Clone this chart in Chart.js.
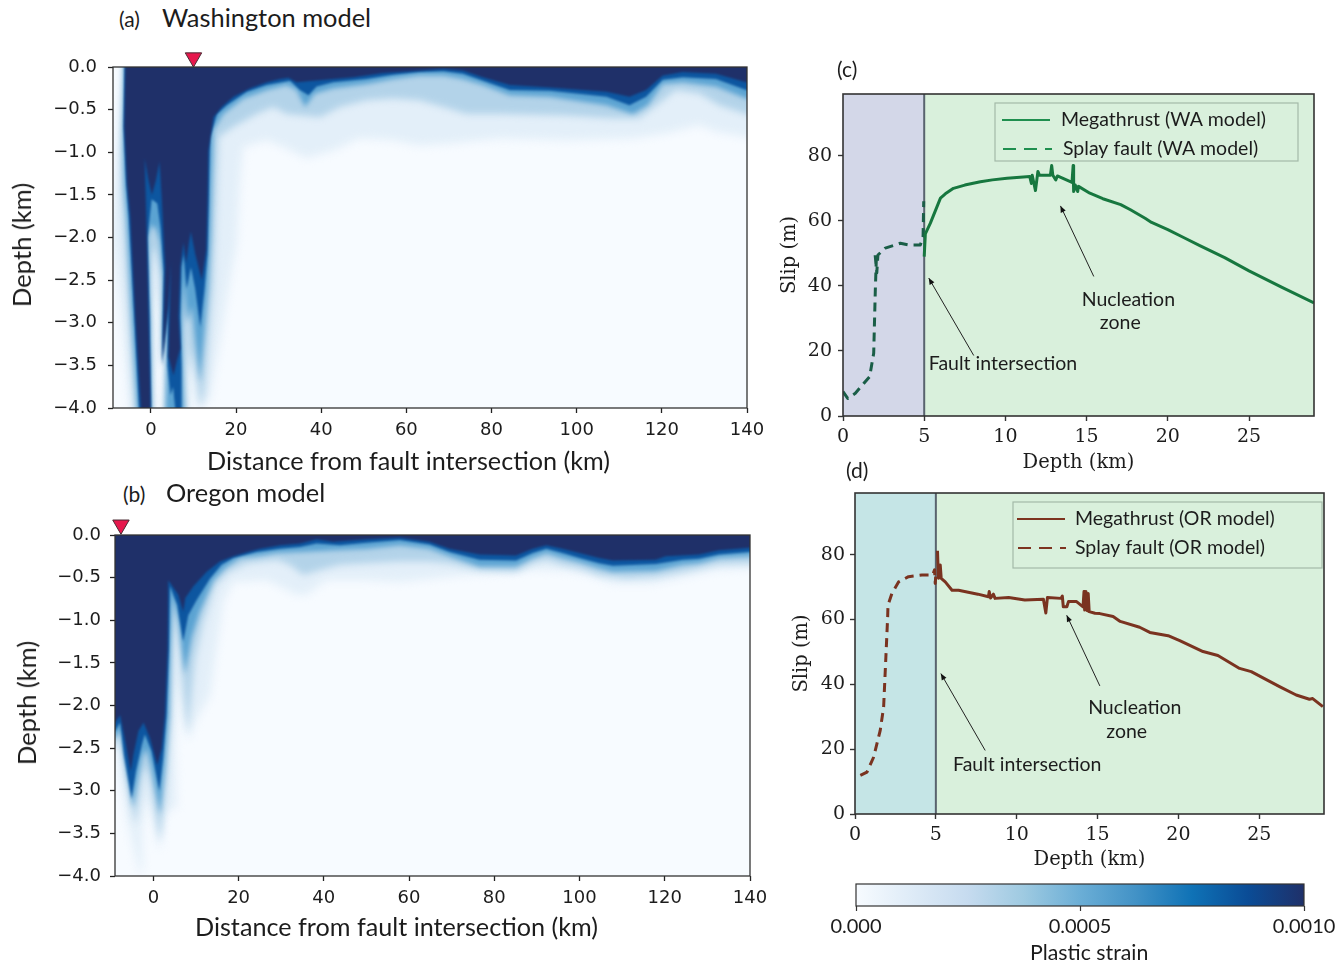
<!DOCTYPE html>
<html>
<head>
<meta charset="utf-8">
<title>Plastic strain and slip</title>
<script src="https://cdn.jsdelivr.net/npm/chart.js@4/dist/chart.umd.js"></script>
<style>
  body { margin: 0; background: #fff; width: 1342px; height: 965px; overflow: hidden; position: relative; }
  canvas { position: absolute; }
  .txt { position: absolute; white-space: nowrap; color: #1c1c1c; font-family: "Lato"; }
</style>
</head>
<body>
<script>
// Washington model strain contours, [distance km, depth km], one outline per strain level
const waStrain100 = [[-5.9,0.3],[-6.0,0],[-6.25,-0.7],[-5.6,-1.37],[-4.84,-1.76],[-3.67,-2.93],[-2.34,-4.0],[-2.2,-4.2],[0,-4.2],[-0.55,-2.93],[-1.09,-1.76],[-1.48,-1.07],[-0.55,-1.33],[0.23,-1.5],[1.17,-1.33],[2.03,-1.11],[2.58,-1.56],[3.13,-2.15],[3.36,-2.34],[2.73,-3.44],[4.14,-2.77],[4.77,-2.27],[4.38,-2.93],[4.14,-3.4],[5.3,-3.62],[6.1,-3.45],[6.9,-3.3],[6.5,-2.93],[6.9,-2.34],[7.66,-2.06],[8.28,-2.3],[8.9,-2.07],[9.38,-1.93],[10.4,-2.19],[11.95,-2.5],[13,-2.15],[13.3,-1.56],[13.5,-0.98],[14.7,-0.59],[16.6,-0.47],[19.4,-0.35],[23.3,-0.25],[27.2,-0.18],[30.3,-0.14],[32.3,-0.125],[34.2,-0.18],[38.1,-0.16],[42.8,-0.14],[47.5,-0.12],[54.5,-0.07],[63,-0.04],[68.7,-0.02],[73.3,-0.04],[78,-0.12],[84.3,-0.21],[93.7,-0.24],[107,-0.29],[112.4,-0.35],[116.3,-0.27],[120.2,-0.1],[124.9,-0.06],[132.7,-0.08],[139.8,-0.18],[143,-0.2],[143,0.3]];
const waStrain80 = [[-6.1,0.3],[-6.4,-0.7],[-5.8,-1.37],[-5.2,-1.76],[-3.9,-2.93],[-2.6,-4.2],[0.1,-4.2],[-0.3,-2.93],[-0.8,-2.0],[0.2,-1.55],[1.5,-1.6],[2.3,-1.9],[3.0,-2.4],[2.6,-3.5],[4.1,-2.8],[4.7,-2.3],[4.0,-2.93],[3.9,-3.5],[4.6,-3.85],[5.2,-3.75],[6.1,-4.2],[7.2,-4.2],[7.2,-3.5],[6.9,-2.93],[7.2,-2.34],[7.66,-2.2],[8.4,-2.6],[9.4,-2.35],[10.4,-2.6],[11.6,-3.05],[12.6,-2.6],[13.3,-2.2],[13.6,-1.56],[13.8,-1.0],[13.9,-0.82],[15.5,-0.55],[17.8,-0.45],[22.5,-0.29],[27.2,-0.21],[32.7,-0.16],[35,-0.27],[37,-0.33],[38.9,-0.23],[42.8,-0.18],[50.6,-0.14],[56.9,-0.09],[63,-0.06],[68.7,-0.05],[73.3,-0.08],[78,-0.16],[84.3,-0.27],[93.7,-0.28],[107,-0.35],[112.4,-0.45],[116.3,-0.35],[120.2,-0.15],[124.9,-0.12],[132.7,-0.14],[139.8,-0.27],[143,-0.3],[143,0.3]];
const waStrain50 = [[-6.2,0.3],[-6.5,-0.8],[-6.3,-1.37],[-5.7,-1.76],[-4.5,-2.93],[-3,-4.2],[0.2,-4.2],[-0.2,-2.93],[-0.7,-2.0],[0.2,-1.85],[1.2,-1.9],[2.1,-2.05],[2.9,-2.5],[2.5,-3.5],[4.1,-2.8],[4.7,-2.25],[3.7,-3.4],[3.4,-4.2],[7.9,-4.2],[7.5,-3.5],[7.3,-2.93],[7.7,-2.5],[8.6,-3.0],[9.6,-2.8],[10.4,-3.2],[11.5,-3.7],[12.6,-3.1],[13.4,-2.6],[14,-2.0],[14.3,-1.37],[14.7,-0.74],[17,-0.55],[21.7,-0.37],[27.2,-0.27],[31.9,-0.21],[34.2,-0.27],[36.2,-0.47],[38.5,-0.31],[42.8,-0.25],[50.6,-0.2],[56.9,-0.14],[63,-0.1],[68.7,-0.1],[73.3,-0.14],[78,-0.21],[84.3,-0.33],[93.7,-0.35],[107,-0.45],[113.2,-0.55],[116.7,-0.45],[120.2,-0.2],[124.9,-0.18],[132.7,-0.23],[139.8,-0.37],[143,-0.4],[143,0.3]];
const waStrain30 = [[-6.2,0.3],[-7.0,-1.0],[-6.9,-1.5],[-6.3,-2.0],[-5.2,-2.93],[-3.6,-4.2],[0.3,-4.2],[0,-2.93],[-0.2,-2.5],[0.3,-2.15],[1,-2.15],[2,-2.4],[2.8,-2.9],[2.5,-3.6],[4.1,-2.8],[4.7,-2.25],[3.6,-3.5],[3.2,-4.2],[8.4,-4.2],[7.9,-3.5],[7.6,-3.0],[8,-2.9],[9,-3.6],[9.8,-3.3],[10.6,-3.6],[11.6,-4.0],[12.6,-3.8],[13.1,-3.52],[14.7,-2.54],[15.5,-1.37],[15.9,-0.82],[19.4,-0.7],[24.8,-0.55],[28.75,-0.47],[31.9,-0.55],[35.8,-0.57],[39.7,-0.59],[44.4,-0.47],[50.6,-0.39],[56.9,-0.37],[63,-0.39],[68.7,-0.47],[74.1,-0.55],[81.9,-0.55],[97.6,-0.57],[108.5,-0.6],[114.7,-0.6],[118.7,-0.45],[123.3,-0.27],[128.8,-0.31],[133.5,-0.45],[139.8,-0.55],[143,-0.58],[143,0.3]];
const waStrain12 = [[-6,0.3],[-6,0],[-9.3,-2.0],[-7.7,-2.6],[-6.5,-3.2],[-4.6,-4.2],[0.6,-4.2],[0.9,-2.9],[1.3,-2.6],[2.4,-3.0],[2.6,-3.5],[4.1,-2.8],[4.7,-2.25],[3.5,-3.6],[3,-4.2],[8.9,-4.2],[9.3,-3.7],[10,-3.6],[11,-4.0],[12,-4.0],[13.9,-3.89],[15.9,-3.32],[18.2,-2.62],[20.2,-2.07],[20.9,-1.37],[21.7,-0.94],[27.2,-0.86],[31.1,-0.94],[36.6,-1.07],[42.8,-0.98],[49,-0.84],[56.9,-0.86],[63,-0.92],[70,-0.9],[81.9,-0.84],[97.6,-0.86],[113,-0.84],[121,-0.78],[128.8,-0.68],[132.7,-0.76],[139.8,-0.82],[143,-0.84],[143,0.3]];

// Oregon model strain contours
const orStrain100 = [[-11,0.3],[-11,-2.2],[-9,-2.2],[-7.8,-2.11],[-6.6,-2.42],[-5.3,-2.77],[-4.7,-2.58],[-3.5,-2.3],[-2.3,-2.2],[-0.8,-2.38],[0.94,-2.7],[1.95,-2.5],[2.73,-2.11],[3.36,-1.33],[3.5,-0.53],[5.86,-0.7],[7,-0.9],[7.5,-0.74],[9.4,-0.6],[12.5,-0.43],[15.6,-0.31],[18.75,-0.25],[22.7,-0.19],[25,-0.16],[29.7,-0.12],[34.4,-0.1],[38.3,-0.05],[42.2,-0.08],[50,-0.05],[57.8,-0.03],[64.8,-0.08],[69.5,-0.16],[76.5,-0.23],[85.1,-0.24],[89,-0.16],[92.2,-0.12],[96,-0.16],[100,-0.21],[104.6,-0.27],[107.8,-0.3],[117.9,-0.29],[120.2,-0.25],[128,-0.23],[132.7,-0.18],[139.8,-0.15],[143,-0.15],[143,0.3]];
const orStrain80 = [[-11,0.3],[-11,-2.3],[-9,-2.3],[-7.8,-2.2],[-6.9,-2.58],[-5.1,-3.09],[-4.1,-2.77],[-2.7,-2.46],[-2,-2.34],[-0.4,-2.54],[1.4,-3.0],[2.3,-2.62],[3.1,-2.11],[3.67,-1.33],[3.9,-0.6],[5.6,-0.82],[7,-1.25],[8.2,-0.94],[10.2,-0.76],[13.3,-0.51],[16,-0.35],[18.75,-0.27],[24.2,-0.2],[29.7,-0.16],[34.4,-0.14],[38.3,-0.1],[43.75,-0.12],[50,-0.09],[57.8,-0.06],[64.8,-0.11],[69.5,-0.2],[76.5,-0.29],[85.1,-0.3],[89,-0.21],[92.2,-0.16],[96,-0.21],[100,-0.27],[104.6,-0.33],[107.8,-0.36],[117.9,-0.34],[124.2,-0.29],[128,-0.28],[132.7,-0.23],[139.8,-0.2],[143,-0.2],[143,0.3]];
const orStrain50 = [[-11,0.3],[-11,-2.38],[-9,-2.38],[-7.8,-2.27],[-6.6,-2.66],[-4.8,-3.2],[-3.9,-2.93],[-2.7,-2.62],[-1.7,-2.5],[-0.6,-2.7],[1.56,-3.28],[2.7,-2.73],[3.67,-2.11],[4.06,-1.33],[4.5,-0.7],[5.9,-1.02],[7.4,-1.64],[9,-1.2],[10.9,-0.9],[14.1,-0.53],[16.8,-0.39],[20.3,-0.27],[24.2,-0.25],[28.9,-0.21],[34.4,-0.2],[42.2,-0.18],[50,-0.16],[57.8,-0.12],[64.8,-0.16],[69.5,-0.25],[76.5,-0.37],[85.1,-0.37],[89,-0.27],[92.2,-0.21],[96,-0.27],[100,-0.32],[104.6,-0.39],[107.8,-0.43],[117.9,-0.42],[124.2,-0.35],[128,-0.33],[132.7,-0.27],[139.8,-0.25],[143,-0.25],[143,0.3]];
const orStrain30 = [[-11,0.3],[-11,-2.5],[-9,-2.5],[-7.8,-2.3],[-6.2,-2.85],[-4.3,-3.4],[-3.5,-3.16],[-2.3,-2.77],[-1.56,-2.73],[-0.4,-3],[1.56,-3.6],[3.1,-2.89],[4.1,-2.11],[4.5,-1.33],[5.1,-0.82],[6.25,-1.41],[8,-2.34],[9.8,-1.45],[11.7,-1.02],[14.5,-0.59],[17.6,-0.43],[21.9,-0.33],[28.9,-0.29],[32,-0.35],[35.2,-0.47],[39,-0.41],[43.75,-0.35],[50,-0.33],[57.8,-0.31],[64.8,-0.31],[69.5,-0.33],[76.5,-0.41],[85.1,-0.43],[89,-0.33],[92.2,-0.29],[96,-0.35],[100,-0.39],[104.6,-0.47],[110.9,-0.51],[117.9,-0.49],[124.2,-0.43],[128,-0.39],[132.7,-0.34],[139.8,-0.33],[143,-0.33],[143,0.3]];
const orStrain12 = [[-11,0.3],[-11,-2.34],[-9,-2.34],[-7.8,-2.89],[-5.5,-3.48],[-3,-4.01],[-2.5,-3.87],[-2.7,-3.48],[-1.56,-3.09],[-0.16,-3.28],[1.4,-3.71],[2.6,-3.3],[4.3,-3.2],[5.5,-3.2],[5.1,-2.5],[5.6,-1.72],[8.2,-2.42],[9.8,-2.19],[13.3,-1.88],[14.8,-1.33],[16.4,-0.78],[18.75,-0.55],[26.6,-0.53],[33.6,-0.7],[35.9,-0.7],[40.6,-0.53],[50,-0.53],[57.8,-0.55],[65.6,-0.51],[73.4,-0.47],[81.2,-0.45],[89,-0.41],[96.8,-0.42],[102.3,-0.47],[107.8,-0.57],[117.1,-0.57],[125,-0.49],[132,-0.41],[139.8,-0.39],[143,-0.39],[143,0.3]];

const waMarker = [[10, 0.11]];
const orMarker = [[-7.6, 0.12]];

// Slip curves, [depth km, slip m]
const waSplay = [[0,7.5],[0.29,5.4],[0.76,7],[1.64,12.1],[1.89,19.3],[1.99,38.8],[2.05,48],[1.97,50],[2.08,44],[2.15,49.5],[2.6,51.6],[3.53,53.1],[4.05,52.6],[4.76,52.6],[4.93,55],[4.97,66]];
const waMegathrust = [[5,49],[5.07,56],[5.38,59.3],[6,67],[6.3,68.3],[6.8,70],[7.5,71],[8.46,72],[9.2,72.6],[10.1,73.1],[11.5,73.6],[11.6,71.5],[11.65,74],[11.85,69.3],[12,75.2],[12.1,74],[12.77,74],[12.85,77],[12.92,74],[13.1,72.6],[13.2,73.8],[14.1,71.8],[14.17,77],[14.2,69],[14.3,71],[14.45,69],[14.5,70.6],[15.2,68.5],[16,66.8],[17.1,65],[17.7,63.4],[18.6,60.8],[19,59.5],[20,57.3],[21,54.8],[22,52.3],[23.5,48.7],[25,44.6],[27,39.6],[29,34.8]];
const orSplay = [[0.33,11.9],[0.74,12.9],[1.15,17.5],[1.56,25.8],[1.77,33],[1.91,48.5],[2.02,60.8],[2.04,64.4],[2.28,68],[2.7,71.6],[3.31,73.2],[4.14,73.7],[4.8,73.7],[4.92,75.3],[4.96,71.1],[5,74]];
const orMegathrust = [[5.1,81.2],[5.16,72.7],[5.27,76.8],[5.33,72.7],[5.58,71.6],[6,69],[6.4,69],[7.6,67.8],[8.25,67],[8.3,68.6],[8.38,66.6],[8.56,67.8],[8.66,66.5],[9.5,66.8],[10.5,66],[11.65,66.2],[11.8,62],[11.9,66.8],[12.74,66.5],[12.82,67.2],[12.88,63.9],[13.1,63.9],[13.2,65.5],[13.7,65.5],[14.1,63.9],[14.16,68.6],[14.2,62.9],[14.28,68.6],[14.36,62.7],[14.42,68],[14.48,62.4],[14.84,61.9],[15.14,61.8],[15.96,60.9],[16.4,59.4],[17.6,57.6],[18.23,56],[19.36,55],[20.08,53.5],[21.52,50.1],[22.44,48.9],[23.78,44.9],[24.5,43.9],[26.25,39.3],[27.28,36.7],[28.1,35.4],[28.3,35.6],[28.93,33.1]];

const splayZone = [[0,0],[0,99],[5,99],[5,0]];
const megathrustZone = [[5,0],[5,99],[29,99],[29,0]];
const intersectionLine = [[5,0],[5,99]];

const waArrows = [[8.05,18.6,5.28,42.4],[15.44,42.9,13.39,64.6]];
const orArrows = [[8.05,19.6,5.31,43.3],[15.14,39.5,13.09,61.3]];

const colorbarValue = [0.001];
const colorbarLabels = ['0.000', '0.0005', '0.0010'];
const colorbarStops = ['#f7fbff', '#deebf7', '#c6dbef', '#9ecae1', '#6baed6', '#4292c6', '#0f72b6', '#0a4c96', '#1f3069'];

const levelColors = ['#1f3069', '#0d56a0', '#5ba3d2', '#b3d3e9', '#e3eff9'];
const levelBlur = [0.8, 1.2, 2.6, 3.5, 4];
const sans = 'Lato';
const frameColor = '#333';

const toPoints = list => list.map(p => ({ x: p[0], y: p[1] }));

// has to run ahead of Filler so the filter is already set when the fill is painted
const blurPlugin = {
    id: 'levelBlurFilter',
    beforeDatasetDraw(chart, args) {
        const px = chart.data.datasets[args.index].blurPx;
        if (px) chart.ctx.filter = 'blur(' + px + 'px)';
    },
    afterDatasetDraw(chart) { chart.ctx.filter = 'none'; }
};
Chart.unregister(Chart.Filler);
Chart.register(blurPlugin, Chart.Filler);

const panelNotes = {
    id: 'panelNotes',
    beforeDatasetsDraw(chart, args, opts) {
        if (!opts.background) return;
        const a = chart.chartArea;
        chart.ctx.fillStyle = opts.background;
        chart.ctx.fillRect(a.left, a.top, a.right - a.left, a.bottom - a.top);
    },
    afterDatasetsDraw(chart, args, opts) {
        const ctx = chart.ctx, a = chart.chartArea, sx = chart.scales.x, sy = chart.scales.y;
        ctx.save();
        ctx.strokeStyle = frameColor;
        ctx.lineWidth = opts.frameWidth || 1.5;
        ctx.strokeRect(a.left, a.top, a.right - a.left, a.bottom - a.top);

        (opts.arrows || []).forEach(r => {
            const x0 = sx.getPixelForValue(r[0]), y0 = sy.getPixelForValue(r[1]);
            const x1 = sx.getPixelForValue(r[2]), y1 = sy.getPixelForValue(r[3]);
            const ang = Math.atan2(y1 - y0, x1 - x0);
            ctx.strokeStyle = '#222';
            ctx.lineWidth = 1;
            ctx.beginPath(); ctx.moveTo(x0, y0); ctx.lineTo(x1, y1); ctx.stroke();
            ctx.fillStyle = '#111';
            ctx.beginPath();
            ctx.moveTo(x1, y1);
            ctx.lineTo(x1 - 7 * Math.cos(ang - 0.4), y1 - 7 * Math.sin(ang - 0.4));
            ctx.lineTo(x1 - 7 * Math.cos(ang + 0.4), y1 - 7 * Math.sin(ang + 0.4));
            ctx.fill();
        });

        ctx.fillStyle = '#1c1c1c';
        ctx.font = '19.5px ' + sans;
        ctx.textBaseline = 'middle';
        (opts.notes || []).forEach(n => {
            ctx.textAlign = n[3];
            ctx.fillText(n[0], sx.getPixelForValue(n[1]), sy.getPixelForValue(n[2]));
        });

        if (opts.legend) {
            const g = opts.legend;
            ctx.strokeStyle = '#a3b9a8';
            ctx.lineWidth = 1.2;
            ctx.strokeRect(g.box[0], g.box[1], g.box[2], g.box[3]);
            ctx.textAlign = 'left';
            g.rows.forEach(r => {
                ctx.strokeStyle = g.color;
                ctx.lineWidth = 2.2;
                ctx.setLineDash(r.dash);
                ctx.beginPath(); ctx.moveTo(r.x0, r.y); ctx.lineTo(r.x1, r.y); ctx.stroke();
                ctx.setLineDash([]);
                ctx.fillText(r.text, r.tx, r.y);
            });
        }
        ctx.restore();
    }
};

function addCanvas(left, top, w, h) {
    const c = document.createElement('canvas');
    c.width = w; c.height = h;
    c.style.left = left + 'px'; c.style.top = top + 'px';
    c.style.width = w + 'px'; c.style.height = h + 'px';
    document.body.appendChild(c);
    return c.getContext('2d');
}

function strainPanel(box, levels, marker, xMin) {
    const datasets = [{
        data: toPoints(marker), clip: false, pointStyle: 'triangle', rotation: 180, pointRadius: 9.5,
        pointBackgroundColor: '#e6174c', pointBorderColor: '#4a2a33', pointBorderWidth: 1, showLine: false
    }];
    levels.forEach((lv, i) => datasets.push({
        data: toPoints(lv), showLine: true, fill: 'shape', backgroundColor: levelColors[i],
        borderWidth: 0, pointRadius: 0, tension: 0, blurPx: levelBlur[i]
    }));
    const tick = { family: 'DejaVu Sans', size: 18 };
    return new Chart(addCanvas(box.left, box.top, box.w, box.h), {
        type: 'scatter',
        plugins: [panelNotes],
        data: { datasets },
        options: {
            responsive: false, animation: false, events: [],
            layout: { autoPadding: false, padding: { top: box.pt, right: box.pr } },
            plugins: { legend: { display: false }, tooltip: { enabled: false }, panelNotes: { background: '#f7fbff', frameWidth: 1.3 } },
            scales: {
                x: {
                    min: xMin, max: 140, border: { display: false },
                    grid: { drawOnChartArea: false, tickLength: 5, tickColor: '#222', tickWidth: 1.3 },
                    ticks: { stepSize: 20, includeBounds: false, maxRotation: 0, autoSkip: false, padding: 7, color: '#1c1c1c', font: tick },
                    afterFit: s => { s.height = box.hx; }
                },
                y: {
                    min: -4, max: 0, border: { display: false },
                    grid: { drawOnChartArea: false, tickLength: 5, tickColor: '#222', tickWidth: 1.3 },
                    ticks: { stepSize: 0.5, autoSkip: false, padding: box.yPad, color: '#1c1c1c', font: tick,
                        callback: v => v.toFixed(1).replace('-', '\u2212') },
                    afterFit: s => { s.width = box.wy; }
                }
            }
        }
    });
}

function slipPanel(box, curves, zoneColor, notes) {
    const line = { showLine: true, pointRadius: 0, tension: 0, borderJoinStyle: 'round' };
    const tick = { family: 'DejaVu Serif', size: 19 };
    const title = { family: 'DejaVu Serif', size: 19.5 };
    return new Chart(addCanvas(box.left, box.top, box.w, box.h), {
        type: 'scatter',
        plugins: [panelNotes],
        data: {
            datasets: [
                { ...line, data: toPoints(curves.megathrust), borderColor: curves.solid, borderWidth: 3 },
                { ...line, data: toPoints(curves.splay), borderColor: curves.dashed, borderWidth: 3, borderDash: [9, 6] },
                { ...line, data: toPoints(intersectionLine), borderColor: '#59636e', borderWidth: 2 },
                { data: toPoints(splayZone), showLine: true, fill: 'shape', backgroundColor: zoneColor, borderWidth: 0, pointRadius: 0 },
                { data: toPoints(megathrustZone), showLine: true, fill: 'shape', backgroundColor: '#d9f0dc', borderWidth: 0, pointRadius: 0 }
            ]
        },
        options: {
            responsive: false, animation: false, events: [],
            layout: { autoPadding: false, padding: { top: box.pt, right: box.pr } },
            plugins: { legend: { display: false }, tooltip: { enabled: false }, panelNotes: notes },
            scales: {
                x: {
                    min: 0, max: 29, border: { display: false },
                    grid: { drawOnChartArea: false, tickLength: 5, tickColor: frameColor, tickWidth: 1.4 },
                    ticks: { stepSize: 5, includeBounds: false, maxRotation: 0, autoSkip: false, padding: 5, color: '#1c1c1c', font: tick },
                    title: { display: true, text: 'Depth (km)', color: '#1c1c1c', font: title, padding: { bottom: box.xTitlePad } },
                    afterFit: s => { s.height = box.hx; }
                },
                y: {
                    min: 0, max: 99, border: { display: false },
                    grid: { drawOnChartArea: false, tickLength: 5, tickColor: frameColor, tickWidth: 1.4 },
                    ticks: { stepSize: 20, includeBounds: false, autoSkip: false, padding: box.yPad, color: '#1c1c1c', font: tick },
                    title: { display: true, text: 'Slip (m)', color: '#1c1c1c', font: title, padding: { top: box.yTitlePad } },
                    afterFit: s => { s.width = box.wy; }
                }
            }
        }
    });
}

strainPanel({ left: 0, top: 40, w: 800, h: 440, pt: 27, pr: 53, hx: 72, wy: 113, yPad: 11 },
    [waStrain100, waStrain80, waStrain50, waStrain30, waStrain12], waMarker, -8.9);
strainPanel({ left: 0, top: 510, w: 800, h: 430, pt: 25, pr: 50, hx: 64, wy: 115, yPad: 9 },
    [orStrain100, orStrain80, orStrain50, orStrain30, orStrain12], orMarker, -9);

slipPanel({ left: 770, top: 64, w: 560, h: 420, pt: 30, pr: 16, hx: 68, wy: 73, xTitlePad: 9, yTitlePad: 8, yPad: 6 },
    { megathrust: waMegathrust, splay: waSplay, solid: '#17773f', dashed: '#1a5e47' }, '#d3d7e8', {
        frameWidth: 1.6,
        arrows: waArrows,
        notes: [['Fault intersection', 5.28, 16, 'left'], ['Nucleation', 17.57, 35.7, 'center'], ['zone', 17.07, 28.6, 'center']],
        legend: { box: [225, 39, 303, 58], color: '#1f8f4f', rows: [
            { text: 'Megathrust (WA model)', dash: [], x0: 232, x1: 280, tx: 291, y: 56 },
            { text: 'Splay fault (WA model)', dash: [13, 8], x0: 233, x1: 282, tx: 293, y: 85 }
        ] }
    });
slipPanel({ left: 775, top: 463, w: 560, h: 420, pt: 30, pr: 11, hx: 69, wy: 80, xTitlePad: 11, yTitlePad: 15, yPad: 5 },
    { megathrust: orMegathrust, splay: orSplay, solid: '#7a3320', dashed: '#7a3320' }, '#c5e5e6', {
        frameWidth: 1.6,
        arrows: orArrows,
        notes: [['Fault intersection', 6.06, 15.3, 'left'], ['Nucleation', 17.3, 32.7, 'center'], ['zone', 16.8, 25.5, 'center']],
        legend: { box: [238, 39, 309, 66], color: '#7d3420', rows: [
            { text: 'Megathrust (OR model)', dash: [], x0: 242, x1: 290, tx: 300, y: 56 },
            { text: 'Splay fault (OR model)', dash: [13, 8], x0: 243, x1: 291, tx: 300, y: 85 }
        ] }
    });

// colour bar, a single horizontal bar with the colormap as its fill
new Chart(addCanvas(820, 874, 520, 91), {
    type: 'bar',
    plugins: [panelNotes],
    data: {
        labels: ['strain'],
        datasets: [{
            data: colorbarValue, barPercentage: 1, categoryPercentage: 1,
            backgroundColor: c => {
                const a = c.chart.chartArea;
                if (!a) return '#6baed6';
                const g = c.chart.ctx.createLinearGradient(a.left, 0, a.right, 0);
                colorbarStops.forEach((col, i) => g.addColorStop(i / (colorbarStops.length - 1), col));
                return g;
            }
        }]
    },
    options: {
        indexAxis: 'y', responsive: false, animation: false, events: [],
        layout: { autoPadding: false, padding: { top: 10, left: 36, right: 36 } },
        plugins: { legend: { display: false }, tooltip: { enabled: false }, panelNotes: { frameWidth: 1.2 } },
        scales: {
            x: {
                min: 0, max: 0.001, border: { display: false },
                grid: { drawOnChartArea: false, tickLength: 5, tickColor: '#333', tickWidth: 1.2 },
                ticks: { stepSize: 0.0005, includeBounds: false, maxRotation: 0, autoSkip: false, padding: 4,
                    color: '#1c1c1c', font: { family: sans, size: 20 },
                    callback: (v, i) => colorbarLabels[i] },
                afterFit: s => { s.height = 59; }
            },
            y: { display: false }
        }
    }
});

// text placed by hand where the figure was composited off-centre from its axes
const textLabels = [
    ['(a)', 119, 18, 21, 0], ['Washington model', 162, 17, 25.4, 0],
    ['(b)', 123, 493, 21, 0], ['Oregon model', 166, 492, 25.4, 0],
    ['(c)', 837, 68, 21, 0], ['(d)', 846, 469, 21, 0],
    ['Distance from fault intersection (km)', 207, 460, 25.2, 0],
    ['Distance from fault intersection (km)', 195, 926, 25.2, 0],
    ['Depth (km)', 21, 245, 25.6, -90], ['Depth (km)', 26, 703, 25.6, -90],
    ['Plastic strain', 1030, 952, 21.3, 0]
];
textLabels.forEach(t => {
    const d = document.createElement('div');
    d.className = 'txt';
    d.textContent = t[0];
    d.style.fontSize = t[3] + 'px';
    d.style.left = t[1] + 'px';
    d.style.top = t[2] + 'px';
    d.style.transform = t[4] ? 'translate(-50%,-50%) rotate(-90deg)' : 'translateY(-50%)';
    document.body.appendChild(d);
});
</script>
</body>
</html>
